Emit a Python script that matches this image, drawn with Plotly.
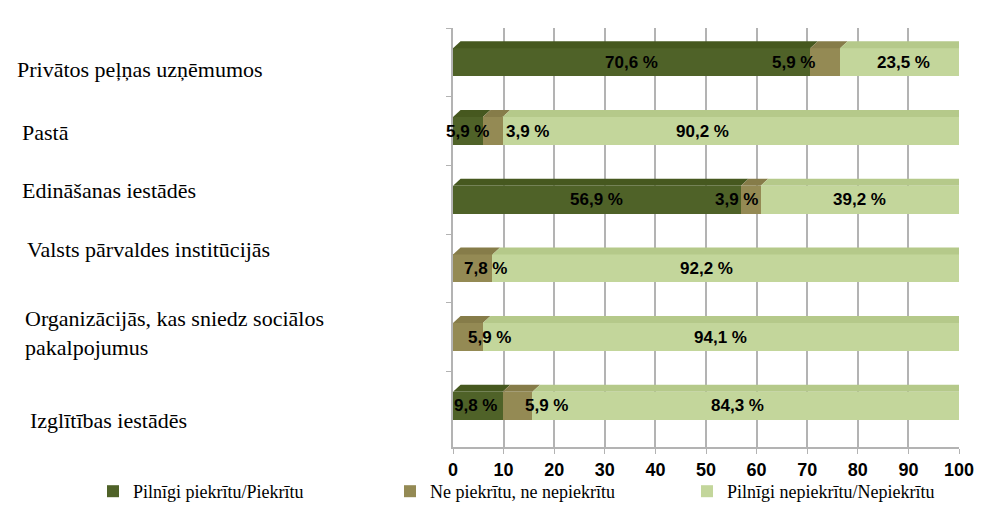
import plotly.graph_objects as go

# survey answers, % of respondents
categories = [
    "Privātos peļņas uzņēmumos",
    "Pastā",
    "Edināšanas iestādēs",
    "Valsts pārvaldes institūcijās",
    "Organizācijās, kas sniedz sociālos<br>pakalpojumus",
    "Izglītības iestādēs",
]
agree = [70.6, 5.9, 56.9, 0.0, 0.0, 9.8]
neutral = [5.9, 3.9, 3.9, 7.8, 5.9, 5.9]
disagree = [23.5, 90.2, 39.2, 92.2, 94.1, 84.3]
series_names = [
    "Pilnīgi piekrītu/Piekrītu",
    "Ne piekrītu, ne nepiekrītu",
    "Pilnīgi nepiekrītu/Nepiekrītu",
]
x_ticks = list(range(0, 101, 10))

# styling
W, H = 986, 522
M_L, M_R, M_T, M_B = 453, 20, 28, 75
PW, PH = W - M_L - M_R, H - M_T - M_B
front = ["#4F6228", "#948A54", "#C3D69B"]
topface = ["#46581F", "#867C49", "#B5C98A"]
endface = "#8E9E69"
label_left_px = [9, 14, 14, 19, 17, 22]
label_dy = [7, 1, -9, -19, -4, 15]  # label offset from bar centre, px down
# nudges (px) Excel applied to the data labels in the 3D chart
value_dx = [[0, -32, 4], [0, 35, -28], [0, -14, 0], [0, 13, -19], [0, 22, 0], [-2, 29, -8]]
serif = "Liberation Serif, Times New Roman, serif"
narrow = "Liberation Sans Narrow, Arial Narrow, Liberation Sans, sans-serif"
DEPTH = 1.5  # x-units of the 3D offset
HALF, LIFT = 14, 7  # px
LEGEND_BOTTOM = 510  # px; plotly keeps 12px pad below a legend

series = [agree, neutral, disagree]

fig = go.Figure()
for name, vals, col in zip(series_names, series, front):
    fig.add_trace(
        go.Bar(
            x=vals,
            y=categories,
            orientation="h",
            name=name,
            marker=dict(color=col, line=dict(width=0)),
            width=0.41,
            hoverinfo="x+name",
        )
    )

shapes = []
annotations = []
for i, cat in enumerate(categories):
    start = 0.0
    for k, vals in enumerate(series):
        v = vals[i]
        if v <= 0:
            continue
        end = start + v
        shapes.append(
            dict(
                type="path",
                xref="x",
                yref="y",
                ysizemode="pixel",
                yanchor=cat,
                path=f"M {start},{HALF} L {end},{HALF} L {end + DEPTH},{HALF + LIFT} L {start + DEPTH},{HALF + LIFT} Z",
                fillcolor=topface[k],
                line=dict(width=0),
            )
        )
        annotations.append(
            dict(
                x=start + v / 2,
                y=cat,
                xshift=value_dx[i][k],
                text=f"{v:.1f}".replace(".", ",") + " %",
                showarrow=False,
                font=dict(family=narrow, size=17, color="black", weight="bold"),
            )
        )
        start = end
    shapes.append(
        dict(
            type="path",
            xref="x",
            yref="y",
            ysizemode="pixel",
            yanchor=cat,
            path=f"M {start},{HALF} L {start + DEPTH},{HALF + LIFT} L {start + DEPTH},{-HALF + LIFT} L {start},{-HALF} Z",
            fillcolor=endface,
            line=dict(width=0),
        )
    )
    annotations.append(
        dict(
            x=(label_left_px[i] - M_L) / PW,
            xref="paper",
            xanchor="left",
            y=cat,
            yshift=-label_dy[i],
            text=cat,
            align="left",
            showarrow=False,
            font=dict(family=serif, size=22, color="black"),
        )
    )

fig.update_layout(
    barmode="stack",
    width=W,
    height=H,
    margin=dict(l=M_L, r=M_R, t=M_T, b=M_B),
    plot_bgcolor="white",
    paper_bgcolor="white",
    shapes=shapes,
    annotations=annotations,
    xaxis=dict(
        range=[0, 100],
        tickvals=x_ticks,
        showgrid=True,
        gridcolor="#B3B3B3",
        gridwidth=1.5,
        zeroline=False,
        showline=True,
        linecolor="#B3B3B3",
        linewidth=1.5,
        ticks="outside",
        ticklen=5,
        tickcolor="#B3B3B3",
        ticklabelstandoff=1,
        tickfont=dict(family=narrow, size=18, color="black", weight="bold"),
    ),
    yaxis=dict(
        categoryorder="array",
        categoryarray=categories,
        range=[5.6, -0.5],
        showticklabels=False,
        showgrid=False,
        showline=True,
        linecolor="#B3B3B3",
        linewidth=1.5,
        ticks="outside",
        tickson="boundaries",
        ticklen=5,
        tickcolor="#B3B3B3",
    ),
    legend=dict(
        orientation="h",
        x=(88 - M_L) / PW,
        xanchor="left",
        y=-(LEGEND_BOTTOM - (H - M_B)) / PH,
        yanchor="bottom",
        borderwidth=0,
        bgcolor="rgba(0,0,0,0)",
        entrywidth=252,
        font=dict(family=serif, size=18, color="black"),
        traceorder="normal",
    ),
    showlegend=True,
)

fig.write_html(
    "out.html",
    config={"displayModeBar": False},
    post_script="document.body.style.margin = '0';",
)
